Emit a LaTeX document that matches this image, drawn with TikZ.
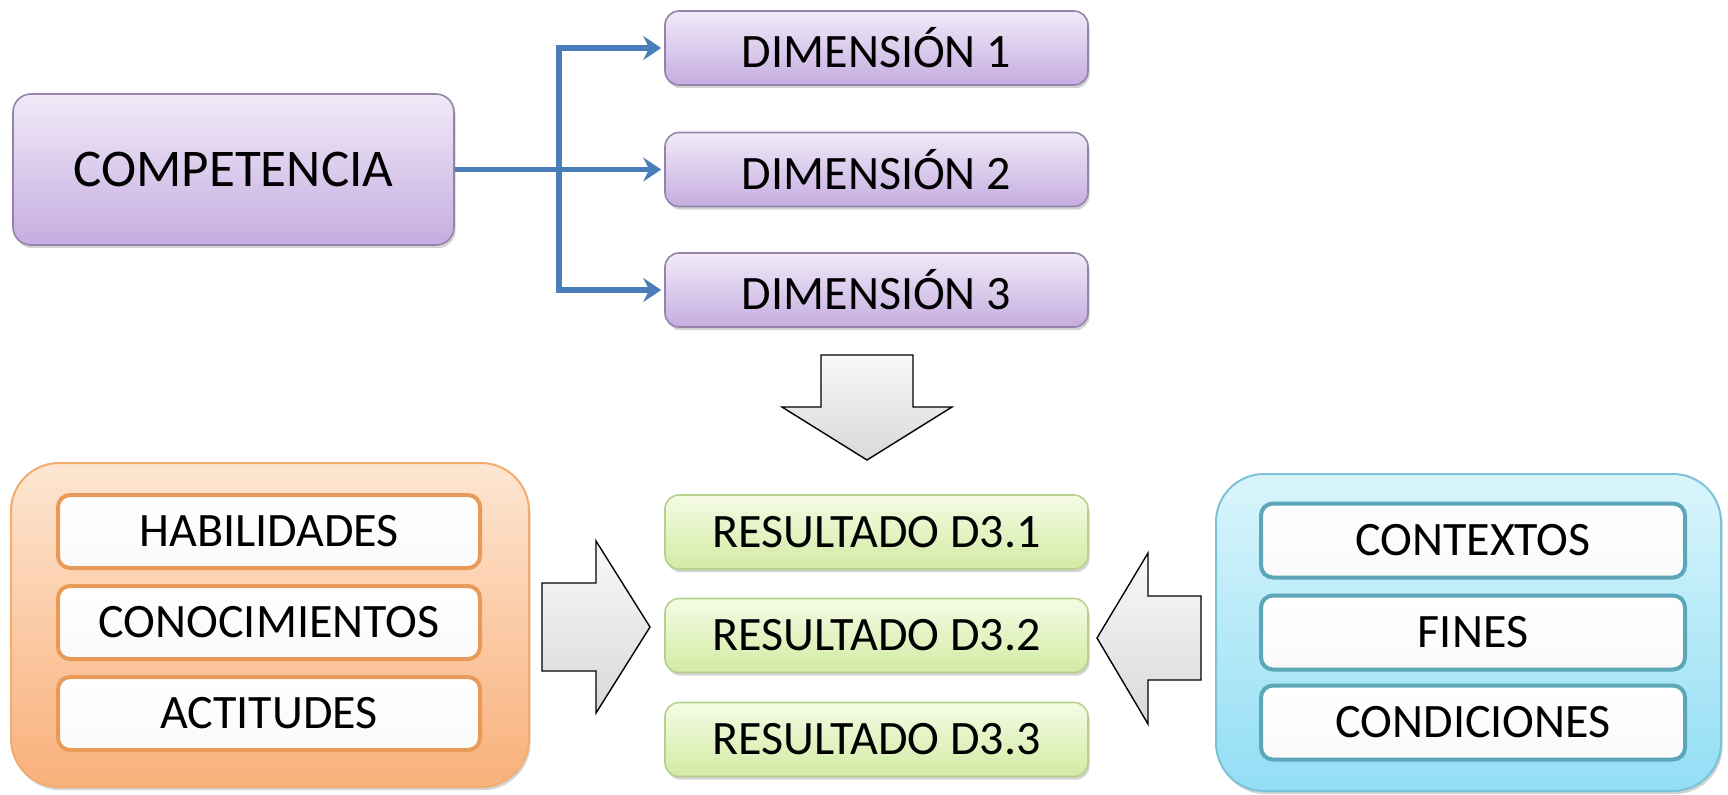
\documentclass[tikz,border=0pt]{standalone}
\usepackage{fontspec}
\setmainfont{Carlito}
\usetikzlibrary{shadows,arrows.meta,calc}
\definecolor{ptop}{HTML}{F1EAF8}
\definecolor{pbot}{HTML}{C5ADE0}
\definecolor{pborder}{HTML}{9484AA}
\definecolor{gtop}{HTML}{F5FBE4}
\definecolor{gbot}{HTML}{D2EBA4}
\definecolor{gborder}{HTML}{B8D08E}
\definecolor{otop}{HTML}{FDE6D2}
\definecolor{obot}{HTML}{F9B07A}
\definecolor{oborder}{HTML}{F2AC70}
\definecolor{oinner}{HTML}{E99A58}
\definecolor{btop}{HTML}{DAF5FC}
\definecolor{bbot}{HTML}{92DEF4}
\definecolor{bborder}{HTML}{7EC2D6}
\definecolor{binner}{HTML}{5CA6B9}
\definecolor{conncol}{HTML}{4A7EBB}
\tikzset{
  txt/.style={font=\fontsize{24}{28}\selectfont, text=black},
  shd/.style={drop shadow={opacity=0.35, shadow xshift=0.8pt, shadow yshift=-1.6pt}},
  basebox/.style={rounded corners=7pt, line width=0.8pt, align=center, inner sep=0pt, txt},
  purplebox/.style={basebox, draw=pborder, top color=ptop, bottom color=pbot, shd,
    minimum width=211.5pt, minimum height=37pt},
  greenbox/.style={basebox, draw=gborder, top color=gtop, bottom color=gbot, shd,
    minimum width=211.5pt, minimum height=37pt},
  orangebox/.style={basebox, rounded corners=6pt, draw=oinner, line width=2pt, top color=white, bottom color=white!96!gray,
    minimum width=211pt, minimum height=36.5pt},
  bluebox/.style={basebox, rounded corners=6pt, draw=binner, line width=2pt, top color=white, bottom color=white!96!gray,
    minimum width=212pt, minimum height=37pt},
  container/.style={rounded corners=24pt, line width=1pt, shd, inner sep=0pt},
  conn/.style={draw=conncol, line width=2.6pt, line join=miter},
  connarrow/.style={conn, -{Stealth[length=9pt, width=12pt, inset=3pt]}, shorten >=1.5pt},
  blockarrow/.style={draw=black, line width=0.7pt, top color=white!95!gray, bottom color=white!70!gray, line join=miter}
}
\begin{document}
\begin{tikzpicture}[x=0.5pt, y=-0.5pt]
\useasboundingbox (0,0) rectangle (1728,794);
% top row
\node[purplebox, rounded corners=9pt, minimum width=220.5pt, minimum height=75.5pt, font=\fontsize{26.5}{30}\selectfont] (comp) at (233.5,169.5) {COMPETENCIA};
\node[purplebox] (d1) at (876.5,48) {DIMENSIÓN 1};
\node[purplebox] (d2) at (876.5,169.5) {DIMENSIÓN 2};
\node[purplebox] (d3) at (876.5,290) {DIMENSIÓN 3};
\coordinate (jn) at (559,169.5);
\draw[connarrow] (jn) |- (d1.west);
\draw[connarrow] (jn) |- (d3.west);
\draw[connarrow] (comp.east) -- (d2.west);
% down block arrow
\path[blockarrow] (821,355) -- (913,355) -- (913,407) -- (952,407) -- (867,460) -- (782,407) -- (821,407) -- cycle;
% orange container
\node[container, draw=oborder, top color=otop, bottom color=obot, minimum width=259pt, minimum height=162pt] (ocont) at (270,625) {};
\node[orangebox] (hab) at (269,531.5) {HABILIDADES};
\node[orangebox] (con) at (269,622.5) {CONOCIMIENTOS};
\node[orangebox] (act) at (269,713.5) {ACTITUDES};
% green results
\node[greenbox] (r1) at (876.5,532) {RESULTADO D3.1};
\node[greenbox] (r2) at (876.5,635.5) {RESULTADO D3.2};
\node[greenbox] (r3) at (876.5,739.5) {RESULTADO D3.3};
% right block arrow
\path[blockarrow] (542,583) -- (596,583) -- (596,541) -- (650,627) -- (596,713) -- (596,671) -- (542,671) -- cycle;
% left block arrow
\path[blockarrow] (1201,596) -- (1148,596) -- (1148,553) -- (1097,638) -- (1148,724) -- (1148,680) -- (1201,680) -- cycle;
% blue container
\node[container, draw=bborder, top color=btop, bottom color=bbot, minimum width=252.5pt, minimum height=158.5pt] (bcont) at (1468.5,632.5) {};
\node[bluebox] (ctx) at (1473,540.5) {CONTEXTOS};
\node[bluebox] (fin) at (1473,632.5) {FINES};
\node[bluebox] (cond) at (1473,722.5) {CONDICIONES};
\end{tikzpicture}
\end{document}
